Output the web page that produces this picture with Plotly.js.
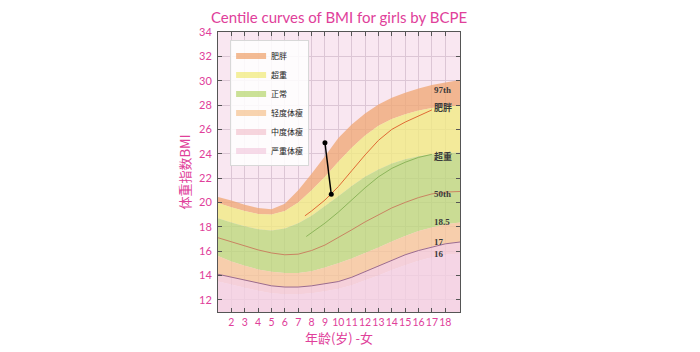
<!DOCTYPE html>
<html><head><meta charset="utf-8">
<script src="https://cdn.plot.ly/plotly-3.0.1.min.js"></script>
<style>html,body{margin:0;padding:0;background:#fff}#chart{width:700px;height:352px}</style>
</head><body><div id="chart"></div>
<script>
// ---- data ----
const ages = [1,2,3,4,5,6,7,8,9,10,11,12,13,14,15,16,17,18,19.1];
const p97      = [20.45,20.15,19.8,19.55,19.45,19.9,21.0,22.35,23.8,25.3,26.4,27.3,28.05,28.6,29.0,29.35,29.65,29.85,30.05];
const obeseLow = [19.95,19.6,19.3,19.05,19.0,19.3,20.0,21.0,22.1,23.35,24.5,25.5,26.3,26.85,27.25,27.55,27.75,27.9,27.95];
const overLow  = [18.7,18.35,18.05,17.8,17.7,17.85,18.3,18.9,19.7,20.5,21.35,22.1,22.7,23.2,23.55,23.8,23.95,24.05,24.1];
const cut185   = [15.6,15.15,14.8,14.5,14.3,14.2,14.2,14.35,14.65,15.0,15.4,15.85,16.3,16.8,17.25,17.65,17.95,18.2,18.35];
const cut17    = [14.1,13.85,13.6,13.35,13.15,13.05,13.05,13.15,13.3,13.5,13.85,14.3,14.75,15.25,15.7,16.05,16.35,16.6,16.75];
const cut16    = [13.5,13.25,13.0,12.75,12.55,12.45,12.45,12.55,12.7,12.9,13.2,13.6,14.0,14.45,14.85,15.2,15.5,15.7,15.8];
const p50      = [17.1,16.75,16.4,16.1,15.85,15.7,15.75,16.05,16.5,17.1,17.75,18.4,19.0,19.55,20.0,20.4,20.7,20.85,20.9];

const obeseLineAges = [7.5,8,9,10,11,12,13,14,15,16,17];
const obeseLine     = [18.9,19.3,20.2,21.3,22.6,23.9,25.1,26.0,26.6,27.1,27.6];
const overLineAges  = [7.6,8,9,10,11,12,13,14,15,16,17];
const overLine      = [17.2,17.5,18.3,19.2,20.2,21.2,22.1,22.8,23.3,23.7,23.95];

const pointAges = [9, 9.47];
const pointBMI  = [24.9, 20.67];

const bandNames = ['肥胖','超重','正常','轻度体瘦','中度体瘦','严重体瘦'];
const curveLabels = ['97th','肥胖','超重','50th','18.5','17','16'];
const xTicks = [2,3,4,5,6,7,8,9,10,11,12,13,14,15,16,17,18];

// ---- styling ----
const bandColors = ['rgba(240,168,118,0.78)','rgba(241,234,130,0.78)','rgba(188,216,122,0.78)',
                    'rgba(246,199,152,0.78)','rgba(244,201,212,0.78)','rgba(244,208,226,0.78)'];
const pink = '#e0409a';

function band(name, upper, lower, color){
  return {x: ages.concat(ages.slice().reverse()),
          y: upper.concat(lower.slice().reverse()),
          type:'scatter', mode:'none', fill:'toself', fillcolor:color,
          name:name, hoverinfo:'skip'};
}
const traces = [
  band(bandNames[0], p97, obeseLow, bandColors[0]),
  band(bandNames[1], obeseLow, overLow, bandColors[1]),
  band(bandNames[2], overLow, cut185, bandColors[2]),
  band(bandNames[3], cut185, cut17, bandColors[3]),
  band(bandNames[4], cut17, cut16, bandColors[4]),
  {x: ages, y: cut16, type:'scatter', mode:'none', fill:'tozeroy', fillcolor:bandColors[5],
   name:bandNames[5], hoverinfo:'skip'},
  {x: ages, y: p50, type:'scatter', mode:'lines', line:{color:'#c98462', width:1}, showlegend:false},
  {x: ages, y: cut17, type:'scatter', mode:'lines', line:{color:'#9b6b8e', width:1}, showlegend:false},
  {x: obeseLineAges, y: obeseLine, type:'scatter', mode:'lines', line:{color:'#e06a35', width:1}, showlegend:false},
  {x: overLineAges, y: overLine, type:'scatter', mode:'lines', line:{color:'#8db55a', width:1}, showlegend:false},
  {x: pointAges, y: pointBMI, type:'scatter', mode:'lines+markers', line:{color:'#000', width:1.5},
   marker:{color:'#000', size:5}, showlegend:false}
];

const labelY = [29.26, 27.8, 23.8, 20.67, 18.4, 16.75, 15.77];
const annotations = curveLabels.map((t,i)=>({
  x:17.0, y:labelY[i], xref:'x', yref:'y', text:'<b>'+t+'</b>', showarrow:false,
  xanchor:'left', yanchor:'middle',
  font:{family:'Liberation Serif, DejaVu Serif, "Noto Sans CJK SC", serif', size:9, color:'#3a3a3a'}
}));

const axisCommon = {showline:true, linecolor:'#555', linewidth:1, mirror:'ticks',
  ticks:'inside', ticklen:4, tickcolor:'#555', gridcolor:'#dcc6d5', gridwidth:1,
  zeroline:false, automargin:false, tickfont:{family:'Lato, "Noto Sans", sans-serif', size:11, color:pink}};

const layout = {
  width:700, height:352,
  margin:{l:218, r:240, t:32, b:40},
  paper_bgcolor:'#ffffff', plot_bgcolor:'#f9e7f1',
  title:{text:'Centile curves of BMI for girls by BCPE', x:0.5, xref:'paper',
         y:0.949, yanchor:'middle', font:{family:'Lato, "Noto Sans", sans-serif', size:15, color:pink}},
  xaxis:Object.assign({}, axisCommon, {range:[1,19.1], tickvals:xTicks, tickangle:0,
         tickfont:{family:'Lato, "Noto Sans", sans-serif', size:10.5, color:pink},
         title:{text:'年龄(岁) -女', standoff:3, font:{family:'"Noto Sans CJK SC", sans-serif', size:13, color:pink}}}),
  yaxis:Object.assign({}, axisCommon, {range:[11,34], dtick:2, tick0:12, ticklabelstandoff:3,
         title:{text:'体重指数BMI', standoff:5, font:{family:'"Noto Sans CJK SC", sans-serif', size:13, color:pink}}}),
  showlegend:true,
  legend:{x:0.05, y:0.97, xanchor:'left', yanchor:'top', bgcolor:'rgba(255,255,255,0.85)',
          bordercolor:'#d8d8d8', borderwidth:1, traceorder:'normal', itemwidth:30,
          font:{family:'"Noto Sans CJK SC", sans-serif', size:8, color:'#222'}},
  annotations:annotations
};

Plotly.newPlot('chart', traces, layout, {displayModeBar:false, staticPlot:true});
</script></body></html>
